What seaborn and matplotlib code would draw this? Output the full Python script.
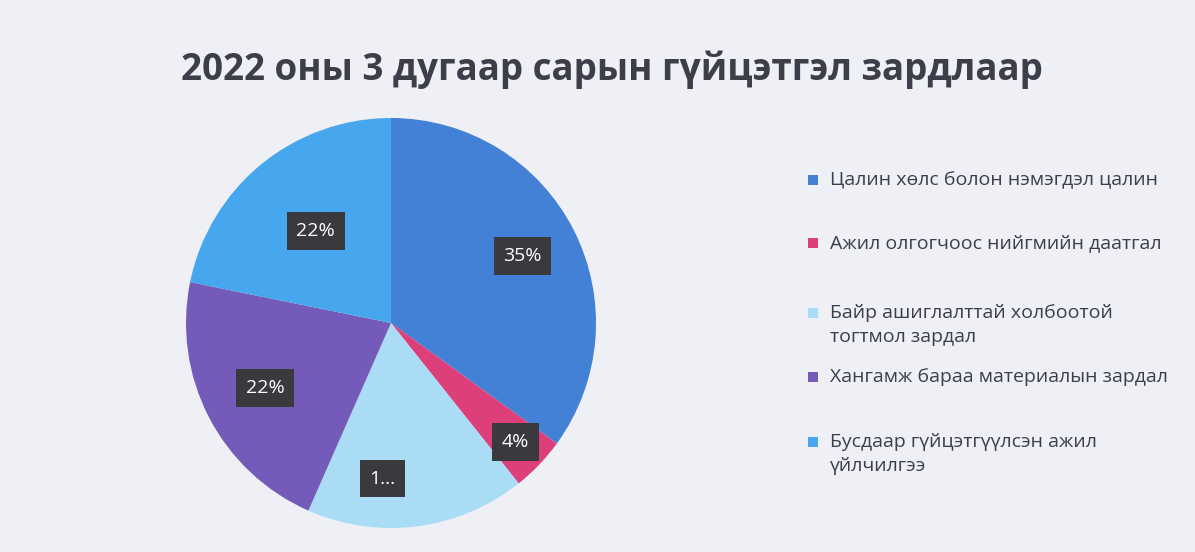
import matplotlib
matplotlib.use("Agg")
import matplotlib.pyplot as plt
import seaborn as sns
import numpy as np
from matplotlib.patches import Rectangle

categories = [
    "Цалин хөлс болон нэмэгдэл цалин",
    "Ажил олгогчоос нийгмийн даатгал",
    "Байр ашиглалттай холбоотой\nтогтмол зардал",
    "Хангамж бараа материалын зардал",
    "Бусдаар гүйцэтгүүлсэн ажил\nүйлчилгээ",
]
values = [35.0, 4.3, 17.3, 21.6, 21.8]
pct_labels = ["35%", "4%", "1...", "22%", "22%"]
title = "2022 оны 3 дугаар сарын гүйцэтгэл зардлаар"

sns.set_theme(style="white")
plt.rcParams["font.family"] = ["Open Sans", "Noto Sans", "DejaVu Sans"]

colors = sns.color_palette(["#4281d5", "#dc3f7a", "#aadcf6", "#745bb9", "#46a7ee"])
bg = "#eef0f6"

fig = plt.figure(figsize=(11.95, 5.52), dpi=100, facecolor=bg)
W, H = 1195, 552
cx, cy, R = 391, 323, 205
ax = fig.add_axes([(cx - R) / W, (H - cy - R) / H, 2 * R / W, 2 * R / H])
ax.set_facecolor(bg)

wedges, _ = ax.pie(values, colors=colors, startangle=90, counterclock=False,
                   radius=1.0, wedgeprops=dict(linewidth=0))
ax.set_xlim(-1, 1)
ax.set_ylim(-1, 1)
ax.set_aspect("equal")
ax.axis("off")

# label placement (style): radial fraction and angular nudge in degrees
label_r = [0.72, 0.84, 0.76, 0.69, 0.58]
label_dang = [0, 0, -10.5, 0, 0]
for w, lab, r, da in zip(wedges, pct_labels, label_r, label_dang):
    ang = np.deg2rad((w.theta1 + w.theta2) / 2 + da)
    ax.text(r * np.cos(ang), r * np.sin(ang), lab, ha="center", va="center",
            color="white", fontsize=14,
            bbox=dict(boxstyle="square,pad=0.5", fc="#3a3a3e", ec="none"))

fig.text(612 / W, 1 - 70 / H, title, ha="center", va="center",
         fontsize=26.5, fontweight="bold", color="#3d3e4a")

# legend
leg_y = [180, 243, 313, 377, 442]
for cat, col, y in zip(categories, colors, leg_y):
    fig.patches.append(Rectangle(((813 - 5) / W, 1 - (y + 5) / H), 10 / W, 10 / H,
                                 transform=fig.transFigure, fc=col, ec="none"))
    fig.text(830 / W, 1 - (y - 9) / H, cat, ha="left", va="top",
             fontsize=14, color="#3d3e4a", linespacing=1.45)

fig.savefig("out.png", dpi=100, facecolor=bg)
